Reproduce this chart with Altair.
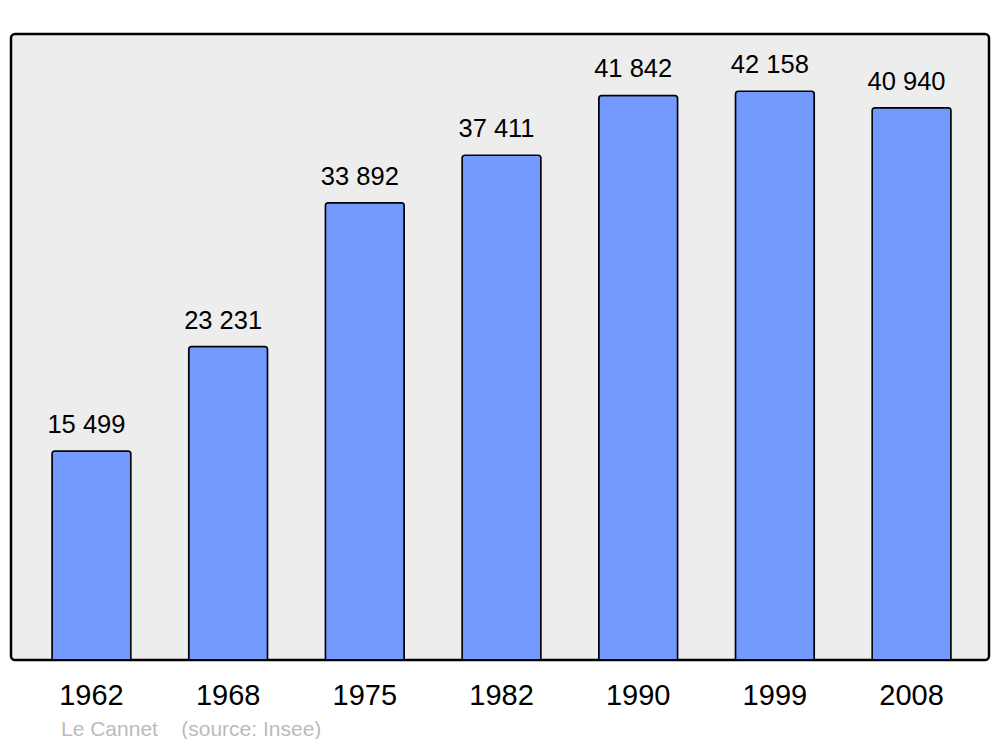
import altair as alt
import pandas as pd

years = ["1962", "1968", "1975", "1982", "1990", "1999", "2008"]
population = [15499, 23231, 33892, 37411, 41842, 42158, 40940]

df = pd.DataFrame({"year": years, "population": population})

FONT = "Liberation Sans"

x = alt.X(
    "year:N",
    sort=years,
    title=None,
    scale=alt.Scale(range=[0, 981], paddingInner=0.423, paddingOuter=0.3),
    axis=alt.Axis(
        orient="bottom",
        labelAngle=0,
        ticks=False,
        domain=False,
        labelFont=FONT,
        labelFontSize=29,
        labelColor="black",
        labelPadding=21,
    ),
)
y = alt.Y(
    "population:Q",
    title=None,
    scale=alt.Scale(domain=[0, 46400], nice=False),
    axis=None,
)

base = alt.Chart(df).encode(x=x, y=y)

bars = base.mark_bar(
    color="#7399ff",
    stroke="black",
    strokeWidth=1.5,
    cornerRadiusTopLeft=3,
    cornerRadiusTopRight=3,
)

labels = base.transform_calculate(
    label="join(split(format(datum.population, ','), ','), ' ')"
).mark_text(
    font=FONT,
    fontSize=25.5,
    color="black",
    baseline="alphabetic",
    dy=-18,
    dx=-5,
).encode(text="label:N")

chart = (
    alt.layer(bars, labels)
    .properties(
        width=978,
        height=626,
        background="white",
        padding={"left": 3, "top": 26, "right": 3, "bottom": 79},
        autosize=alt.AutoSizeParams(type="none"),
        title=alt.TitleParams(
            "Le Cannet\u00a0\u00a0\u00a0\u00a0(source: Insee)",
            orient="bottom",
            anchor="start",
            dx=50,
            offset=9,
            font=FONT,
            fontSize=21,
            fontWeight="normal",
            color="#bbbbbb",
        ),
    )
    .configure_view(
        fill="#ededed",
        stroke="black",
        strokeWidth=2.5,
        cornerRadius=4,
    )
)

chart.save("out.html", embed_options={"renderer": "svg", "actions": False})
